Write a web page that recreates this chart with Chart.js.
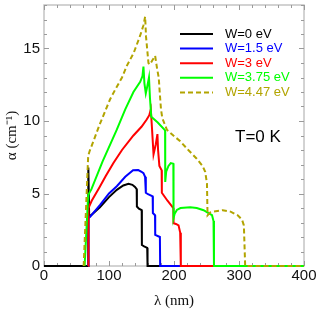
<!DOCTYPE html>
<html><head><meta charset="utf-8">
<script src="https://cdn.jsdelivr.net/npm/chart.js@4.4.1/dist/chart.umd.min.js"></script>
<style>html,body{margin:0;padding:0;background:#fff}</style>
</head><body>
<canvas id="c" width="316" height="316"></canvas>
<script>
// ---- data (wavelength in nm, absorption in cm^-1) ----
const seriesLabels = ["W=0 eV", "W=1.5 eV", "W=3 eV", "W=3.75 eV", "W=4.47 eV"];
const seriesColors = ["#000000", "#0000ff", "#ff0000", "#00ff00", "#b2a400"];

const lambdaW0 = [0, 67.9, 68.2, 69.5, 75, 86, 100, 112, 122, 130, 136, 140, 142.6, 142.9, 146, 150.3, 150.6, 154, 158.8, 159.3, 400];
const alphaW0  = [0, 0, 6.8, 3.4, 3.6, 4.05, 4.75, 5.25, 5.55, 5.67, 5.6, 5.45, 5.3, 4.1, 3.95, 3.85, 1.45, 1.35, 1.25, 0, 0];

const lambdaW15 = [68.2, 68.4, 71, 86, 100, 112, 125, 137, 145, 150, 153, 155.5, 156.5, 156.8, 160, 167.2, 167.5, 170.8, 171.1, 178.3, 178.7, 400];
const alphaW15  = [0, 3.3, 3.4, 4.2, 5.0, 5.5, 6.15, 6.6, 6.62, 6.5, 6.4, 6.15, 5.65, 5.05, 4.95, 4.8, 3.65, 3.5, 2.15, 2.0, 0, 0];

const lambdaW3 = [68.2, 68.4, 73.4, 85, 95, 106.8, 120, 137.6, 150, 158, 162, 164.3, 166, 168.5, 172, 174.5, 175.5, 177.5, 181, 181.3, 190, 199, 199.3, 203, 207, 209.5, 210.5, 400];
const alphaW3  = [0, 4.0, 4.5, 5.4, 6.2, 7.1, 8.0, 9.0, 9.6, 10.1, 10.4, 10.8, 9.6, 7.7, 8.4, 9.1, 8.0, 6.9, 6.6, 5.05, 4.5, 4.0, 2.95, 2.9, 2.8, 2.3, 0, 0];

const lambdaW375 = [62.5, 68, 73, 90, 106, 112, 125, 137.6, 148, 151.5, 153, 154.5, 156.6, 158.5, 161.5, 163, 165, 175, 186.3, 186.5, 188, 191.5, 195, 199, 199.3, 201, 204.4, 210, 225, 235, 245.5, 255, 258.5, 260.8, 261.5, 400];
const alphaW375  = [0, 4.9, 5.3, 7.2, 8.8, 9.4, 10.8, 12.0, 12.7, 13.1, 13.75, 12.6, 11.9, 12.3, 13.0, 11.6, 10.3, 9.9, 9.35, 5.8, 6.5, 6.9, 7.1, 7.05, 3.3, 3.6, 3.87, 4.0, 4.05, 4.0, 3.85, 3.6, 3.5, 3.1, 0, 0];

const lambdaW447 = [61, 68, 70, 76, 86, 101.7, 110, 120, 127.4, 138, 148, 153, 155.6, 157, 160.7, 163, 167, 171, 174, 176.5, 178, 180, 182, 189, 199, 209.6, 222, 235, 244, 248, 250.7, 251.6, 256, 261, 275, 287, 298, 304.6, 307.5, 309.5, 400];
const alphaW447  = [0, 7.6, 7.9, 8.6, 9.8, 11.5, 12.2, 13.0, 13.8, 14.7, 15.9, 16.6, 17.2, 15.8, 14.0, 13.9, 14.2, 14.5, 13.6, 13.0, 12.0, 10.8, 10.2, 9.4, 9.0, 8.6, 8.0, 7.4, 6.9, 6.5, 5.7, 3.5, 3.7, 3.75, 3.85, 3.75, 3.5, 3.2, 2.8, 0, 0];

const xTickValues = [0, 100, 200, 300, 400];
const yTickValues = [0, 5, 10, 15];
const annotationText = "T=0 K";

// ---- build datasets ----
const xs = [lambdaW0, lambdaW15, lambdaW3, lambdaW375, lambdaW447];
const ys = [alphaW0, alphaW15, alphaW3, alphaW375, alphaW447];
const drawOrder = [4, 3, 2, 1, 0];
const datasets = seriesLabels.map((lab, i) => ({
  label: lab,
  data: xs[i].map((x, k) => ({x: x, y: ys[i][k]})),
  borderColor: seriesColors[i],
  backgroundColor: seriesColors[i],
  borderWidth: 2,
  borderDash: i === 4 ? [5, 3] : [],
  pointRadius: 0,
  tension: 0,
  fill: false,
  clip: false,
  order: drawOrder[i]
}));

const frameTicks = {
  id: 'frameTicks',
  beforeDatasetsDraw(chart) {
    const {ctx, chartArea: a, scales: {x, y}} = chart;
    ctx.save();
    ctx.strokeStyle = '#c4c4c4';
    ctx.lineWidth = 1.5;
    ctx.strokeRect(a.left, a.top, a.right - a.left, a.bottom - a.top);
    ctx.strokeStyle = '#9a9a9a';
    ctx.lineWidth = 1;
    ctx.beginPath();
    for (let v = 0; v <= 400; v += 20) {
      const p = Math.round(x.getPixelForValue(v)) + 0.5;
      const len = v % 100 === 0 ? 5 : 3;
      ctx.moveTo(p, a.bottom); ctx.lineTo(p, a.bottom - len);
      ctx.moveTo(p, a.top); ctx.lineTo(p, a.top + len);
    }
    for (let v = 0; v <= 18; v += 1) {
      const p = Math.round(y.getPixelForValue(v)) + 0.5;
      const len = v % 5 === 0 ? 5 : 3;
      ctx.moveTo(a.left, p); ctx.lineTo(a.left + len, p);
      ctx.moveTo(a.right, p); ctx.lineTo(a.right - len, p);
    }
    ctx.stroke();
    ctx.restore();
  },
  afterDraw(chart) {
    const {ctx} = chart;
    ctx.save();
    ctx.font = '13px "Liberation Sans", Arial, sans-serif';
    ctx.textBaseline = 'middle';
    seriesLabels.forEach((lab, i) => {
      const yy = 34 + i * 14.6;
      ctx.strokeStyle = seriesColors[i];
      ctx.lineWidth = 2;
      ctx.setLineDash(i === 4 ? [5, 3] : []);
      ctx.beginPath(); ctx.moveTo(180, yy); ctx.lineTo(213, yy); ctx.stroke();
      ctx.fillStyle = seriesColors[i];
      ctx.fillText(lab, 225, yy);
    });
    ctx.setLineDash([]);
    ctx.fillStyle = '#000';
    ctx.font = '17px "Liberation Sans", Arial, sans-serif';
    ctx.fillText(annotationText, 235, 137);
    ctx.restore();
  }
};

new Chart(document.getElementById('c'), {
  type: 'line',
  data: {datasets},
  plugins: [frameTicks],
  options: {
    responsive: false,
    animation: false,
    events: [],
    layout: {padding: {top: 5, right: 12, left: 0, bottom: 0}},
    plugins: {legend: {display: false}, tooltip: {enabled: false}},
    scales: {
      x: {
        type: 'linear', min: 0, max: 400,
        afterBuildTicks: s => { s.ticks = xTickValues.map(v => ({value: v})); },
        ticks: {font: {family: 'Liberation Sans', size: 15}, color: '#111', padding: 1, maxRotation: 0, autoSkip: false},
        grid: {display: false, drawTicks: false},
        border: {display: false},
        title: {display: true, text: 'λ (nm)', font: {family: 'Liberation Serif', size: 15}, color: '#111', padding: {top: 4, bottom: 6}},
        afterFit: s => { s.height = 50; s.paddingLeft = 0; s.paddingRight = 0; }
      },
      y: {
        type: 'linear', min: 0, max: 18,
        afterBuildTicks: s => { s.ticks = yTickValues.map(v => ({value: v})); },
        ticks: {font: {family: 'Liberation Sans', size: 15}, color: '#111', padding: 4, autoSkip: false},
        grid: {display: false, drawTicks: false},
        border: {display: false},
        title: {display: true, text: 'α (cm⁻¹)', font: {family: 'Liberation Serif', size: 15}, color: '#111', padding: {top: 3, bottom: 0}},
        afterFit: s => { s.width = 44; s.paddingTop = 0; s.paddingBottom = 0; }
      }
    }
  }
});
</script>
</body></html>
